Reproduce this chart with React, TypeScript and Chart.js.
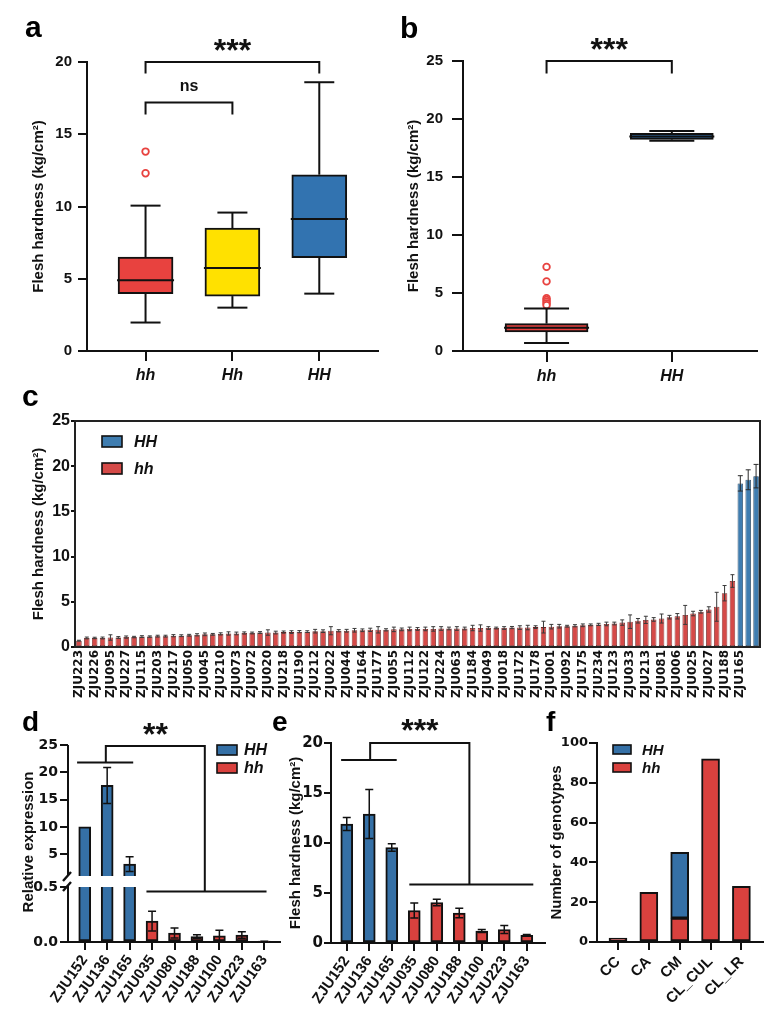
import React, { useEffect, useRef } from 'react';
import { Chart, registerables } from 'chart.js';

Chart.register(...registerables);

const ARIAL = 'Arial, "Liberation Sans", Helvetica, sans-serif';
const DEJAVU = '"DejaVu Sans", "Liberation Sans", sans-serif';
const INK = '#111111';

Chart.defaults.font.family = ARIAL;
Chart.defaults.color = INK;

// ---------- colours
const RED_A = '#E8423F';
const YELLOW_A = '#FFE100';
const BLUE_A = '#3273B0';
const RED = '#D9413E';
const BLUE = '#3570A6';
const RED_C = '#D54A48';
const BLUE_C = '#3F7DB0';

// ---------- panel a: flesh hardness by genotype
const aGroups = ['hh', 'Hh', 'HH'];
const aLow = [1.97, 3.0, 3.97];
const aQ1 = [3.97, 3.8, 6.46];
const aMedian = [4.9, 5.75, 9.14];
const aQ3 = [6.5, 8.5, 12.2];
const aHigh = [10.06, 9.58, 18.6];
const aOutliersHh = [13.8, 12.3];
const aTicks = [0, 5, 10, 15, 20];

// ---------- panel b
const bGroups = ['hh', 'HH'];
const bLow = [0.69, 18.12];
const bQ1 = [1.64, 18.24];
const bMedian = [2.0, 18.5];
const bQ3 = [2.36, 18.76];
const bHigh = [3.66, 18.96];
const bOutliersHh = [7.25, 6.0, 4.55, 4.4, 4.25, 4.1, 3.95];
const bTicks = [0, 5, 10, 15, 20, 25];

// ---------- panel c: every accession, sorted by hardness
const cNames = [
  'ZJU223', 'ZJU226', 'ZJU095', 'ZJU227', 'ZJU115', 'ZJU203', 'ZJU217', 'ZJU050', 'ZJU045', 'ZJU210',
  'ZJU073', 'ZJU072', 'ZJU020', 'ZJU218', 'ZJU190', 'ZJU212', 'ZJU022', 'ZJU044', 'ZJU164', 'ZJU177',
  'ZJU055', 'ZJU112', 'ZJU122', 'ZJU224', 'ZJU063', 'ZJU184', 'ZJU049', 'ZJU018', 'ZJU172', 'ZJU178',
  'ZJU001', 'ZJU092', 'ZJU175', 'ZJU234', 'ZJU123', 'ZJU033', 'ZJU213', 'ZJU081', 'ZJU006', 'ZJU025',
  'ZJU027', 'ZJU188', 'ZJU165',
];
const cHh = [
  0.7, 1.0, 1.0, 1.0, 1.05, 1.05, 1.1, 1.1, 1.15, 1.15,
  1.2, 1.2, 1.25, 1.25, 1.3, 1.35, 1.4, 1.4, 1.45, 1.5,
  1.5, 1.55, 1.55, 1.6, 1.6, 1.6, 1.65, 1.65, 1.7, 1.7,
  1.75, 1.75, 1.8, 1.8, 1.8, 1.85, 1.85, 1.9, 1.9, 1.9,
  1.95, 1.95, 2.0, 2.0, 2.0, 2.0, 2.05, 2.05, 2.05, 2.05,
  2.1, 2.1, 2.1, 2.1, 2.1, 2.15, 2.15, 2.15, 2.2, 2.2,
  2.25, 2.3, 2.3, 2.35, 2.4, 2.45, 2.5, 2.55, 2.6, 2.7,
  2.8, 2.9, 3.0, 3.05, 3.15, 3.3, 3.4, 3.55, 3.7, 3.9,
  4.15, 4.45, 5.95, 7.3,
];
const cHhErr = [
  0.05, 0.1, 0.08, 0.1, 0.3, 0.1, 0.12, 0.08, 0.1, 0.08,
  0.1, 0.1, 0.12, 0.1, 0.1, 0.12, 0.15, 0.1, 0.12, 0.18,
  0.15, 0.12, 0.1, 0.1, 0.3, 0.15, 0.12, 0.15, 0.12, 0.1,
  0.2, 0.15, 0.45, 0.12, 0.15, 0.2, 0.15, 0.18, 0.35, 0.12,
  0.25, 0.15, 0.2, 0.15, 0.2, 0.25, 0.2, 0.15, 0.2, 0.15,
  0.3, 0.35, 0.15, 0.1, 0.15, 0.12, 0.2, 0.25, 0.15, 0.65,
  0.25, 0.2, 0.1, 0.12, 0.15, 0.1, 0.12, 0.2, 0.15, 0.3,
  0.75, 0.25, 0.4, 0.2, 0.5, 0.2, 0.3, 1.05, 0.25, 0.15,
  0.3, 1.6, 0.85, 0.7,
];
const cHH = [18.1, 18.5, 18.9];
const cHHErr = [0.85, 1.1, 1.3];
const cTicks = [0, 5, 10, 15, 20, 25];

// ---------- panel d: relative expression (broken axis)
const dCats = ['ZJU152', 'ZJU136', 'ZJU165', 'ZJU035', 'ZJU080', 'ZJU188', 'ZJU100', 'ZJU223', 'ZJU163'];
const dHH = [10.0, 17.6, 3.2];
const dHHErr = [0, 3.3, 1.35];
const dhh = [0.19, 0.082, 0.05, 0.057, 0.063, 0.004];
const dhhErr = [0.09, 0.045, 0.015, 0.05, 0.03, 0.002];
const dHighTicks = [5, 10, 15, 20, 25];
const dLowTicks = [0, 0.5];
const dUpperSegment = [1, 25];
const dLowerSegment = [0, 0.5];

// ---------- panel e: flesh hardness of the same accessions
const eCats = dCats;
const eHH = [11.9, 12.9, 9.55];
const eHHErr = [0.65, 2.45, 0.38];
const ehh = [3.25, 4.05, 3.0, 1.2, 1.35, 0.77];
const ehhErr = [0.75, 0.33, 0.47, 0.15, 0.4, 0.08];
const eTicks = [0, 5, 10, 15, 20];

// ---------- panel f: genotype counts per group
const fCats = ['CC', 'CA', 'CM', 'CL_CUL', 'CL_LR'];
const fhh = [2, 25, 12, 92, 28];
const fHH = [0, 0, 33, 0, 0];
const fTicks = [0, 20, 40, 60, 80, 100];

// ---------- layout helpers
type Box = { x: number; y: number; w: number; h: number };
type Plot = { l: number; t: number; r: number; b: number };

function frameLayout(box: Box, plot: Plot) {
  return {
    padding: { left: 0, top: plot.t - box.y, right: box.x + box.w - plot.r, bottom: 0 },
    yWidth: plot.l - box.x,
    xHeight: box.y + box.h - plot.b,
  };
}

const font = (family: string, size: number, style = 'normal') => ({ family, size, weight: 'bold', style });

function tickGrid(len: number) {
  return len > 0
    ? { display: true, offset: false, drawOnChartArea: false, drawTicks: true, tickLength: len, color: INK, lineWidth: 2 }
    : { display: false, offset: false, drawOnChartArea: false, drawTicks: false };
}
const axisBorder = { display: true, color: INK, width: 2 };

function valueAxis(o: any) {
  return {
    type: 'linear',
    position: 'left',
    min: o.min,
    max: o.max,
    afterBuildTicks: (s: any) => {
      s.ticks = o.ticks.map((v: number) => ({ value: v }));
    },
    afterFit: (s: any) => {
      s.width = o.width;
    },
    ticks: {
      color: INK,
      font: o.font,
      padding: o.pad,
      callback: (v: any) => (o.fmt ? o.fmt(Number(v)) : String(v)),
    },
    grid: tickGrid(o.len),
    border: axisBorder,
    title: o.title
      ? { display: true, text: o.title, color: INK, font: font(ARIAL, 15), padding: { top: o.titlePad, bottom: 0 } }
      : { display: false },
  };
}

function indexAxis(o: any) {
  return {
    type: 'linear',
    position: 'bottom',
    offset: false,
    min: o.min,
    max: o.max,
    stacked: !!o.stacked,
    afterBuildTicks: (s: any) => {
      s.ticks = o.cats.map((_: string, i: number) => ({ value: i }));
    },
    afterFit: (s: any) => {
      s.height = o.height;
    },
    ticks: {
      autoSkip: false,
      maxRotation: o.rot,
      minRotation: o.rot,
      color: INK,
      font: o.font,
      padding: o.pad,
      callback: (_v: any, i: number) => o.cats[i],
    },
    grid: tickGrid(o.len),
    border: axisBorder,
  };
}

function baseOptions(padding: any, scales: any) {
  return {
    responsive: false,
    maintainAspectRatio: false,
    animation: false,
    devicePixelRatio: 1,
    events: [],
    layout: { padding },
    plugins: { legend: { display: false }, tooltip: { enabled: false }, title: { display: false } },
    scales,
  };
}

function centredText(ctx: CanvasRenderingContext2D, text: string, x: number, cy: number, f: string) {
  ctx.font = f;
  ctx.textAlign = 'center';
  ctx.textBaseline = 'alphabetic';
  const m = ctx.measureText(text);
  ctx.fillText(text, x, cy + (m.actualBoundingBoxAscent - m.actualBoundingBoxDescent) / 2);
}

// ---------- plugins
function panelLetter(letter: string, box: Box, px: number, py: number, size: number) {
  return {
    id: 'panelLetter',
    afterDraw(chart: any) {
      const ctx = chart.ctx;
      ctx.save();
      ctx.fillStyle = '#000';
      ctx.font = `bold ${size}px ${ARIAL}`;
      ctx.textAlign = 'left';
      ctx.textBaseline = 'alphabetic';
      ctx.fillText(letter, px - box.x, py - box.y);
      ctx.restore();
    },
  };
}

function boxWhiskers(s: any, boxW: number, capW: number) {
  return {
    id: 'boxWhiskers',
    afterDatasetsDraw(chart: any) {
      const { ctx } = chart;
      const xs = chart.scales.x;
      const ys = chart.scales.y;
      const seg = (x1: number, y1: number, x2: number, y2: number) => {
        ctx.beginPath();
        ctx.moveTo(x1, y1);
        ctx.lineTo(x2, y2);
        ctx.stroke();
      };
      ctx.save();
      ctx.strokeStyle = INK;
      ctx.lineWidth = 2;
      s.low.forEach((_: number, i: number) => {
        const px = xs.getPixelForValue(i);
        const lo = ys.getPixelForValue(s.low[i]);
        const q1 = ys.getPixelForValue(s.q1[i]);
        const q3 = ys.getPixelForValue(s.q3[i]);
        const hi = ys.getPixelForValue(s.high[i]);
        const md = ys.getPixelForValue(s.median[i]);
        seg(px, lo, px, q1);
        seg(px, q3, px, hi);
        seg(px - capW / 2, lo, px + capW / 2, lo);
        seg(px - capW / 2, hi, px + capW / 2, hi);
        seg(px - boxW / 2, md, px + boxW / 2, md);
      });
      ctx.restore();
    },
  };
}

type Pt = [number, number, string?];
function brackets(paths: Pt[][], labels: { x: number; y: number; s?: string; text: string; font: string }[]) {
  return {
    id: 'brackets',
    afterDraw(chart: any) {
      const { ctx } = chart;
      const xs = chart.scales.x;
      ctx.save();
      ctx.strokeStyle = INK;
      ctx.fillStyle = INK;
      ctx.lineWidth = 2;
      ctx.lineJoin = 'miter';
      paths.forEach((path) => {
        ctx.beginPath();
        path.forEach((p, k) => {
          const x = xs.getPixelForValue(p[0]);
          const y = chart.scales[p[2] || 'y'].getPixelForValue(p[1]);
          if (k === 0) ctx.moveTo(x, y);
          else ctx.lineTo(x, y);
        });
        ctx.stroke();
      });
      labels.forEach((l) => {
        centredText(ctx, l.text, xs.getPixelForValue(l.x), chart.scales[l.s || 'y'].getPixelForValue(l.y), l.font);
      });
      ctx.restore();
    },
  };
}

function swatchLegend(box: Box, x: number, y: number, dy: number, indices: number[], sw: number, sh: number, gap: number, size: number) {
  return {
    id: 'swatchLegend',
    afterDraw(chart: any) {
      const { ctx } = chart;
      ctx.save();
      indices.forEach((di, k) => {
        const ds = chart.data.datasets[di];
        const left = x - box.x;
        const top = y + k * dy - box.y;
        ctx.fillStyle = ds.backgroundColor;
        ctx.fillRect(left, top, sw, sh);
        ctx.strokeStyle = INK;
        ctx.lineWidth = 1.6;
        ctx.strokeRect(left, top, sw, sh);
        ctx.fillStyle = INK;
        ctx.font = `italic bold ${size}px ${ARIAL}`;
        ctx.textAlign = 'left';
        ctx.textBaseline = 'middle';
        ctx.fillText(ds.label, left + sw + gap, top + sh / 2 + 1);
      });
      ctx.restore();
    },
  };
}

// clips a dataset to one axis segment and draws its error bars
const barExtras = {
  id: 'barExtras',
  beforeDatasetDraw(chart: any, args: any) {
    const ds = chart.data.datasets[args.index];
    if (!ds.segment) return;
    const ys = chart.scales[ds.yAxisID];
    const top = ys.getPixelForValue(ds.segment[1]);
    const bot = ys.getPixelForValue(ds.segment[0]);
    const { ctx, chartArea } = chart;
    ctx.save();
    ctx.beginPath();
    ctx.rect(chartArea.left - 10, top, chartArea.width + 20, bot - top);
    ctx.clip();
  },
  afterDatasetDraw(chart: any, args: any) {
    const ds = chart.data.datasets[args.index];
    const meta = chart.getDatasetMeta(args.index);
    const { ctx } = chart;
    if (ds.errors) {
      const ys = chart.scales[meta.yAxisID];
      ctx.save();
      ctx.strokeStyle = ds.errorColor || INK;
      ctx.lineWidth = ds.errorWidth || 1.5;
      meta.data.forEach((el: any, i: number) => {
        const raw = ds.data[i];
        const v = raw == null ? null : typeof raw === 'object' ? raw.y : raw;
        const e = ds.errors[i];
        if (v == null || !e) return;
        const x = el.x;
        const y1 = ys.getPixelForValue(v + e);
        const y2 = ys.getPixelForValue(v - e);
        const c = (ds.errorCap || 6) / 2;
        ctx.beginPath();
        ctx.moveTo(x, y1);
        ctx.lineTo(x, y2);
        ctx.moveTo(x - c, y1);
        ctx.lineTo(x + c, y1);
        ctx.moveTo(x - c, y2);
        ctx.lineTo(x + c, y2);
        ctx.stroke();
      });
      ctx.restore();
    }
    if (ds.segment) ctx.restore();
  },
};

const plotFrame = {
  id: 'plotFrame',
  afterDraw(chart: any) {
    const { ctx, chartArea: a } = chart;
    ctx.save();
    ctx.strokeStyle = '#222';
    ctx.lineWidth = 2;
    ctx.strokeRect(Math.round(a.left), Math.round(a.top), Math.round(a.right - a.left), Math.round(a.bottom - a.top));
    ctx.restore();
  },
};

function axisBreak(box: Box, titleX: number, titleY: number, title: string) {
  return {
    id: 'axisBreak',
    afterDraw(chart: any) {
      const { ctx } = chart;
      const hi = chart.scales.yHigh;
      const lo = chart.scales.yLow;
      const x = Math.round(hi.right);
      const yb = hi.getPixelForValue(dUpperSegment[0]);
      ctx.save();
      ctx.strokeStyle = INK;
      ctx.lineWidth = 2;
      ctx.beginPath();
      ctx.moveTo(x, hi.top);
      ctx.lineTo(x, yb);
      ctx.stroke();
      ctx.lineWidth = 2.4;
      ctx.beginPath();
      ctx.moveTo(x - 5, yb + 5);
      ctx.lineTo(x + 3, yb - 4);
      ctx.moveTo(x - 5, lo.top + 4);
      ctx.lineTo(x + 3, lo.top - 5);
      ctx.stroke();
      ctx.fillStyle = INK;
      ctx.font = `bold 15px ${ARIAL}`;
      ctx.textAlign = 'center';
      ctx.textBaseline = 'middle';
      ctx.translate(titleX - box.x, titleY - box.y);
      ctx.rotate(-Math.PI / 2);
      ctx.fillText(title, 0, 0);
      ctx.restore();
    },
  };
}

const STARS = `bold 32px ${ARIAL}`;

// ---------- panel geometry
const boxA: Box = { x: 0, y: 0, w: 392, h: 395 };
const plotA: Plot = { l: 87, t: 62, r: 378, b: 351 };
const boxB: Box = { x: 392, y: 0, w: 392, h: 395 };
const plotB: Plot = { l: 463, t: 61, r: 757, b: 351 };
const boxC: Box = { x: 0, y: 385, w: 784, h: 325 };
const plotC: Plot = { l: 75, t: 421, r: 760, b: 647 };
const boxD: Box = { x: 0, y: 700, w: 290, h: 316 };
const plotD: Plot = { l: 68, t: 745, r: 280, b: 942 };
const boxE: Box = { x: 262, y: 700, w: 290, h: 316 };
const plotE: Plot = { l: 331, t: 743, r: 545, b: 943 };
const boxF: Box = { x: 540, y: 700, w: 244, h: 316 };
const plotF: Plot = { l: 597, t: 743, r: 763, b: 942 };

const HARDNESS = 'Flesh hardness (kg/cm²)';

function makeA() {
  const L = frameLayout(boxA, plotA);
  return {
    type: 'bar',
    data: {
      datasets: [
        {
          type: 'scatter',
          data: aOutliersHh.map((v) => ({ x: 0, y: v })),
          pointRadius: 3.3,
          pointBorderWidth: 1.8,
          pointBorderColor: RED_A,
          pointBackgroundColor: '#fff',
        },
        {
          type: 'bar',
          data: aGroups.map((_, i) => ({ x: i, y: [aQ1[i], aQ3[i]] })),
          backgroundColor: [RED_A, YELLOW_A, BLUE_A],
          borderColor: INK,
          borderWidth: 2,
          borderSkipped: false,
          barThickness: 55,
          grouped: false,
        },
      ],
    },
    options: baseOptions(L.padding, {
      x: indexAxis({ cats: aGroups, min: -0.674, max: 2.676, height: L.xHeight, font: font(ARIAL, 16, 'italic'), len: 10, pad: 5, rot: 0 }),
      y: valueAxis({ min: 0, max: 20, ticks: aTicks, width: L.yWidth, font: font(ARIAL, 15), len: 9, pad: 6, title: HARDNESS, titlePad: 30 }),
    }),
    plugins: [
      boxWhiskers({ low: aLow, q1: aQ1, median: aMedian, q3: aQ3, high: aHigh }, 57, 30),
      brackets(
        [
          [[0, 19.2], [0, 20], [2, 20], [2, 19.2]],
          [[0, 16.36], [0, 17.19], [1, 17.19], [1, 16.36]],
        ],
        [
          { x: 1, y: 21.2, text: '***', font: STARS },
          { x: 0.5, y: 18.33, text: 'ns', font: `bold 16px ${ARIAL}` },
        ]
      ),
      panelLetter('a', boxA, 25, 37, 30),
    ],
  };
}

function makeB() {
  const L = frameLayout(boxB, plotB);
  return {
    type: 'bar',
    data: {
      datasets: [
        {
          type: 'scatter',
          data: bOutliersHh.map((v) => ({ x: 0, y: v })),
          pointRadius: 3.3,
          pointBorderWidth: 1.8,
          pointBorderColor: RED_A,
          pointBackgroundColor: '#fff',
        },
        {
          type: 'bar',
          data: bGroups.map((_, i) => ({ x: i, y: [bQ1[i], bQ3[i]] })),
          backgroundColor: [RED_A, BLUE_A],
          borderColor: INK,
          borderWidth: 2,
          borderSkipped: false,
          barThickness: 83,
          grouped: false,
        },
      ],
    },
    options: baseOptions(L.padding, {
      x: indexAxis({ cats: bGroups, min: -0.667, max: 1.68, height: L.xHeight, font: font(ARIAL, 16, 'italic'), len: 11, pad: 5, rot: 0 }),
      y: valueAxis({ min: 0, max: 25, ticks: bTicks, width: L.yWidth, font: font(ARIAL, 15), len: 11, pad: 9, title: HARDNESS, titlePad: 13 }),
    }),
    plugins: [
      boxWhiskers({ low: bLow, q1: bQ1, median: bMedian, q3: bQ3, high: bHigh }, 85, 45),
      brackets([[[0, 23.93], [0, 25], [1, 25], [1, 23.93]]], [{ x: 0.5, y: 26.46, text: '***', font: STARS }]),
      panelLetter('b', boxB, 400, 38, 30),
    ],
  };
}

function makeC() {
  const L = frameLayout(boxC, plotC);
  const all = cHh.concat(cHH);
  const labels = all.map((_, i) => (i % 2 === 0 ? cNames[i / 2] || '' : ''));
  return {
    type: 'bar',
    data: {
      labels,
      datasets: [
        {
          label: 'HH',
          data: cHh.map(() => null).concat(cHH),
          errors: cHh.map(() => 0).concat(cHHErr),
          backgroundColor: BLUE_C,
          borderColor: '#1d3c58',
          borderWidth: 0.8,
          borderSkipped: false,
          barPercentage: 0.7,
          categoryPercentage: 1,
          grouped: false,
          errorColor: '#2a2a2a',
          errorWidth: 1,
          errorCap: 5,
        },
        {
          label: 'hh',
          data: cHh.concat(cHH.map(() => null)),
          errors: cHhErr.concat(cHH.map(() => 0)),
          backgroundColor: RED_C,
          borderColor: '#6e2322',
          borderWidth: 0.8,
          borderSkipped: false,
          barPercentage: 0.7,
          categoryPercentage: 1,
          grouped: false,
          errorColor: '#3a3a3a',
          errorWidth: 1,
          errorCap: 4,
        },
      ],
    },
    options: baseOptions(L.padding, {
      x: {
        type: 'category',
        offset: true,
        afterFit: (s: any) => {
          s.height = L.xHeight;
        },
        ticks: { autoSkip: false, maxRotation: 90, minRotation: 90, color: INK, font: font(DEJAVU, 12), padding: 3 },
        grid: { display: false, offset: true, drawOnChartArea: false, drawTicks: false },
        border: axisBorder,
      },
      y: valueAxis({ min: 0, max: 25, ticks: cTicks, width: L.yWidth, font: font(ARIAL, 16), len: 4, pad: 1, title: HARDNESS, titlePad: 30 }),
    }),
    plugins: [barExtras, plotFrame, swatchLegend(boxC, 102, 436, 27, [0, 1], 20, 11, 12, 16), panelLetter('c', boxC, 22, 406, 30)],
  };
}

function barDataset(label: string, values: number[], errors: number[], offset: number, color: string, thickness: number, extra: any = {}) {
  return {
    type: 'bar',
    label,
    data: values.map((v, i) => ({ x: i + offset, y: v || null })),
    errors,
    backgroundColor: color,
    borderColor: INK,
    borderWidth: 2,
    borderSkipped: false,
    barThickness: thickness,
    grouped: false,
    errorCap: 8,
    errorWidth: 1.5,
    ...extra,
  };
}

function makeD() {
  const L = frameLayout(boxD, plotD);
  const ticksFont = font(DEJAVU, 14);
  const upper = { min: -1, max: 25, ticks: dHighTicks, width: L.yWidth, font: ticksFont, len: 8, pad: 2 };
  const lower = { min: 0, max: 0.5, ticks: dLowTicks, width: L.yWidth, font: ticksFont, len: 8, pad: 2, fmt: (v: number) => v.toFixed(1) };
  return {
    type: 'bar',
    data: {
      datasets: [
        barDataset('HH', dHH, dHHErr, 0, BLUE, 12, { yAxisID: 'yHigh', segment: dUpperSegment }),
        barDataset('hh', dhh, dhhErr, 3, RED, 12, { yAxisID: 'yHigh', segment: dUpperSegment }),
        barDataset('HH', dHH, dHHErr, 0, BLUE, 12, { yAxisID: 'yLow', segment: dLowerSegment }),
        barDataset('hh', dhh, dhhErr, 3, RED, 12, { yAxisID: 'yLow', segment: dLowerSegment }),
      ],
    },
    options: baseOptions(L.padding, {
      x: indexAxis({ cats: dCats, min: -0.745, max: 8.7, height: L.xHeight, font: font(ARIAL, 15), len: 8, pad: 2, rot: 55 }),
      yLow: { ...valueAxis(lower), stack: 'brk', stackWeight: 55, weight: 0 },
      yHigh: { ...valueAxis(upper), stack: 'brk', stackWeight: 142, weight: 1, border: { display: false } },
    }),
    plugins: [
      barExtras,
      axisBreak(boxD, 29, 842, 'Relative expression'),
      brackets(
        [
          [[0.94, 21.8, 'yHigh'], [0.94, 24.8, 'yHigh'], [5.35, 24.8, 'yHigh'], [5.35, 0.46, 'yLow']],
          [[-0.34, 21.8, 'yHigh'], [2.16, 21.8, 'yHigh']],
          [[2.75, 0.46, 'yLow'], [8.1, 0.46, 'yLow']],
        ],
        [{ x: 3.15, y: 27.9, s: 'yHigh', text: '**', font: STARS }]
      ),
      swatchLegend(boxD, 217, 745, 18, [0, 1], 20, 10, 7, 16),
      panelLetter('d', boxD, 22, 731, 28),
    ],
  };
}

function makeE() {
  const L = frameLayout(boxE, plotE);
  return {
    type: 'bar',
    data: {
      datasets: [barDataset('HH', eHH, eHHErr, 0, BLUE, 12), barDataset('hh', ehh, ehhErr, 3, RED, 12)],
    },
    options: baseOptions(L.padding, {
      x: indexAxis({ cats: eCats, min: -0.7, max: 8.81, height: L.xHeight, font: font(ARIAL, 15), len: 8, pad: 2, rot: 55 }),
      y: valueAxis({ min: 0, max: 20, ticks: eTicks, width: L.yWidth, font: font(DEJAVU, 15), len: 7, pad: 1, title: HARDNESS, titlePad: 25 }),
    }),
    plugins: [
      barExtras,
      brackets(
        [
          [[1.04, 18.3], [1.04, 20], [5.45, 20], [5.45, 5.85]],
          [[-0.25, 18.3], [2.22, 18.3]],
          [[2.78, 5.85], [8.29, 5.85]],
        ],
        [{ x: 3.25, y: 21.76, text: '***', font: STARS }]
      ),
      panelLetter('e', boxE, 272, 731, 28),
    ],
  };
}

function makeF() {
  const L = frameLayout(boxF, plotF);
  return {
    type: 'bar',
    data: {
      // hh is stacked first so it sits at the base of each column
      datasets: [barDataset('hh', fhh, [], 0, RED, 18), barDataset('HH', fHH, [], 0, BLUE, 18)],
    },
    options: baseOptions(L.padding, {
      x: indexAxis({ cats: fCats, min: -0.68, max: 4.7, height: L.xHeight, font: font(ARIAL, 15), len: 8, pad: 3, rot: 45, stacked: true }),
      y: { ...valueAxis({ min: 0, max: 100, ticks: fTicks, width: L.yWidth, font: font(DEJAVU, 13), len: 8, pad: 1, title: 'Number of genotypes', titlePad: 8 }), stacked: true },
    }),
    plugins: [swatchLegend(boxF, 613, 745, 18, [1, 0], 18, 9, 11, 15), panelLetter('f', boxF, 546, 731, 28)],
  };
}

function Panel({ box, make }: { box: Box; make: () => any }) {
  const ref = useRef<HTMLCanvasElement | null>(null);
  useEffect(() => {
    if (!ref.current) return;
    const chart = new Chart(ref.current, make());
    return () => chart.destroy();
  }, [make]);
  return (
    <canvas
      ref={ref}
      width={box.w}
      height={box.h}
      style={{ position: 'absolute', left: box.x, top: box.y, width: box.w, height: box.h }}
    />
  );
}

export default function App() {
  return (
    <div style={{ position: 'absolute', left: 0, top: 0, width: 784, height: 1016, background: '#fff' }}>
      <Panel box={boxA} make={makeA} />
      <Panel box={boxB} make={makeB} />
      <Panel box={boxC} make={makeC} />
      <Panel box={boxD} make={makeD} />
      <Panel box={boxE} make={makeE} />
      <Panel box={boxF} make={makeF} />
    </div>
  );
}
